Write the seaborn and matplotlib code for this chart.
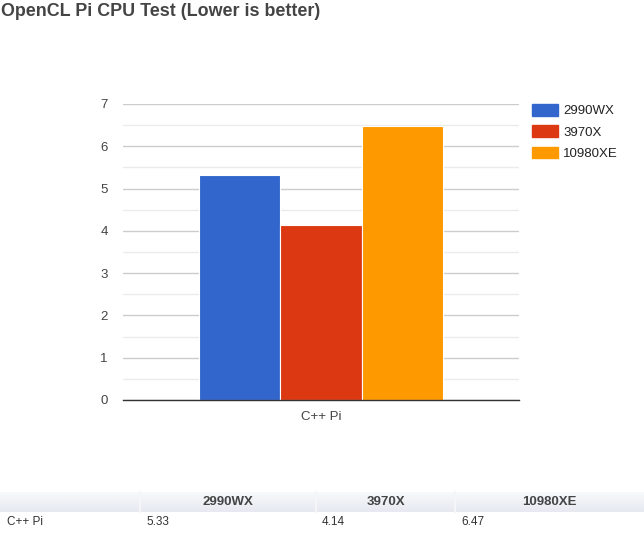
import matplotlib
matplotlib.use("Agg")
import matplotlib.pyplot as plt
import seaborn as sns
import pandas as pd
import numpy as np
from matplotlib.patches import Rectangle
from matplotlib.lines import Line2D
from matplotlib.colors import LinearSegmentedColormap

# ---- data ----
tests = ["C++ Pi"]
cpus = ["2990WX", "3970X", "10980XE"]
values = [5.33, 4.14, 6.47]
colors = ["#3366cc", "#dc3912", "#ff9900"]
yticks = [0, 1, 2, 3, 4, 5, 6, 7]
title = "OpenCL Pi CPU Test (Lower is better)"

df = pd.DataFrame({"test": tests * len(cpus), "cpu": cpus, "value": values})

sns.set_theme(style="white")
plt.rcParams["font.family"] = ["Liberation Sans", "DejaVu Sans"]

W, H = 644, 547
fig = plt.figure(figsize=(W / 100, H / 100), dpi=100)

def fx(px):
    return px / W

def fy(py):
    return 1 - py / H

ax = fig.add_axes([fx(123), fy(400), fx(519) - fx(123), fy(104) - fy(400)])
sns.barplot(data=df, x="test", y="value", hue="cpu", hue_order=cpus,
            palette=colors, width=0.615, ax=ax, saturation=1,
            edgecolor="white", linewidth=0.8)

ax.set_xlim(-0.5, 0.5)
ax.set_ylim(0, 7)
ax.set_yticks(yticks)
ax.set_yticks(np.arange(0.5, 7, 1.0), minor=True)
ax.grid(axis="y", which="major", color="#cccccc", linewidth=1)
ax.grid(axis="y", which="minor", color="#ebebeb", linewidth=1)
ax.set_axisbelow(True)
for s in ["top", "right", "left"]:
    ax.spines[s].set_visible(False)
ax.spines["bottom"].set_color("#333333")
ax.spines["bottom"].set_linewidth(1)
ax.tick_params(axis="both", which="both", length=0, labelsize=9.5, colors="#444444")
ax.tick_params(axis="y", pad=11)
ax.tick_params(axis="x", pad=8)
ax.set_xlabel("")
ax.set_ylabel("")

handles = [Rectangle((0, 0), 1, 1, color=c) for c in colors]
ax.legend(handles, cpus, loc="upper left", bbox_to_anchor=(fx(528), fy(100)),
          bbox_transform=fig.transFigure, frameon=False, fontsize=9.5,
          handlelength=1.97, handleheight=1.0, handletextpad=0.38,
          labelspacing=0.6, borderaxespad=0, borderpad=0.3,
          labelcolor="#222222")

fig.text(fx(1), fy(11), title, fontsize=12.9, fontweight="bold",
         color="#444444", ha="left", va="center")

# ---- table ----
hdr_top, hdr_bot = 492, 512
gax = fig.add_axes([0, fy(hdr_bot), 1, fy(hdr_top) - fy(hdr_bot)])
grad = np.linspace(0, 1, 50).reshape(-1, 1)
cmap = LinearSegmentedColormap.from_list("g", ["#f9fafc", "#e6e9f0"])
gax.imshow(grad, aspect="auto", cmap=cmap, extent=[0, 1, 1, 0])
gax.set_axis_off()

seps = [140, 316, 455]
for s in seps:
    fig.add_artist(Line2D([fx(s), fx(s)], [fy(hdr_top), fy(hdr_bot)],
                          color="#f4f5f8", linewidth=1.5))

col_edges = [0, 140, 316, 455, 644]
for i, name in enumerate(cpus):
    cx = (col_edges[i + 1] + col_edges[i + 2]) / 2
    fig.text(fx(cx), fy(502), name, fontsize=9.5, fontweight="bold",
             color="#444444", ha="center", va="center")

fig.text(fx(7), fy(522), tests[0], fontsize=8.5, color="#333333",
         ha="left", va="center")
for i, v in enumerate(values):
    fig.text(fx(col_edges[i + 1] + 6), fy(522), f"{v:.2f}", fontsize=8.5,
             color="#333333", ha="left", va="center")

fig.savefig("out.png", dpi=100)
